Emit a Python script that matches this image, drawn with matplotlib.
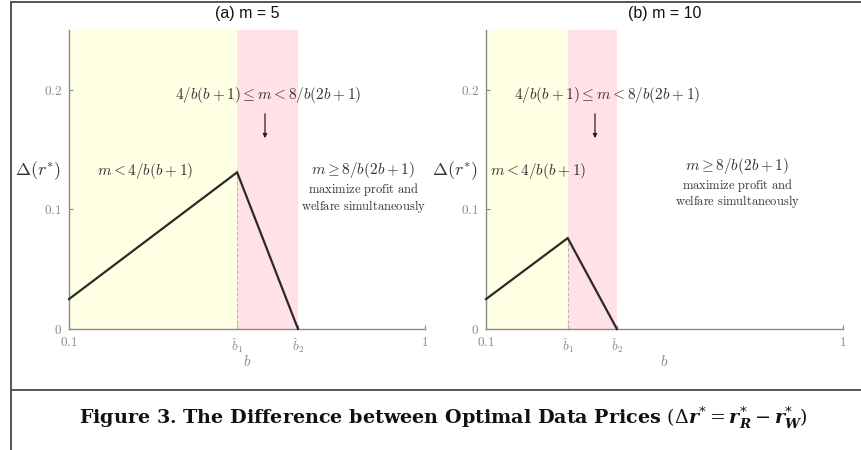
import numpy as np
import matplotlib
matplotlib.use('Agg')
from matplotlib import pyplot as plt
from matplotlib.lines import Line2D

plt.rcParams['mathtext.fontset'] = 'cm'

# --- data ---
titles = ['(a) m = 5', '(b) m = 10']
b_hat1 = [0.525, 0.306]   # 4/b(b+1) = m
b_hat2 = [0.679, 0.430]   # 8/b(2b+1) = m
b_pts = [[0.1, 0.525, 0.679],
         [0.1, 0.306, 0.430]]
delta_r = [[0.025, 0.131, 0.0],
           [0.025, 0.076, 0.0]]
y_ticks = [0, 0.1, 0.2]
y_ticklabels = ['$0$', '$0.1$', '$0.2$']

yellow = '#ffffe3'
pink = '#ffe1e6'
grey = '#8a8a8a'
txt = '#333333'

W, H = 862, 450
fig = plt.figure(figsize=(W / 100, H / 100), dpi=100)

def fx(px):
    return px / W

def fy(py):
    return 1 - py / H

ax_px = [(69, 425), (486, 843)]
top_px, bot_px = 30, 329

# per-panel text positions (pixels)
mid_txt_x = [268, 607]
arrow_x = [265, 595]
left_txt_x = [145, 490]
left_ha = ['center', 'left']
right_txt_x = [363, 737]
right_txt_y = [170, 166]

for i in range(2):
    x0, x1 = ax_px[i]
    ax = fig.add_axes([fx(x0), fy(bot_px), fx(x1 - x0), (bot_px - top_px) / H])
    ax.set_xlim(0.1, 1)
    ax.set_ylim(0, 0.25)

    ax.axvspan(0.1, b_hat1[i], color=yellow, lw=0, zorder=0)
    ax.axvspan(b_hat1[i], b_hat2[i], color=pink, lw=0, zorder=0)
    ax.plot(b_pts[i], delta_r[i], color='#2a2a2a', lw=1.6, zorder=3,
            solid_joinstyle='miter', clip_on=False)
    peak = delta_r[i][1]
    ax.plot([b_hat1[i], b_hat1[i]], [0, peak], color='#b8b8b8', lw=0.8,
            ls=(0, (3, 2)), zorder=2)

    for s in ['top', 'right']:
        ax.spines[s].set_visible(False)
    for s in ['left', 'bottom']:
        ax.spines[s].set_color(grey)
        ax.spines[s].set_linewidth(1.0)

    ax.set_xticks([0.1, b_hat1[i], b_hat2[i], 1])
    ax.set_xticklabels(['$0.1$', r'$\hat{b}_1$', r'$\hat{b}_2$', '$1$'])
    ax.set_yticks(y_ticks)
    ax.set_yticklabels(y_ticklabels)
    ax.tick_params(direction='in', length=3, width=0.8, colors=grey,
                   labelsize=9.5, pad=5)

    ax.set_title(titles[i], fontsize=11.5, family='Liberation Sans',
                 color='#111111', pad=9)
    fig.text(fx((x0 + x1) / 2), fy(362), '$b$', fontsize=11, color=grey,
             ha='center', va='center')

    # y label
    fig.text(fx(x0 - 8), fy(171), r'$\Delta(r^{*})$', fontsize=13,
             color=txt, ha='right', va='center')

    fig.text(fx(mid_txt_x[i]), fy(95),
             r'$4/b(b+1) \leq m < 8/b(2b+1)$', fontsize=11, color=txt,
             ha='center', va='center')
    ax.annotate('', xy=(fx(arrow_x[i]), fy(141)), xycoords='figure fraction',
                xytext=(fx(arrow_x[i]), fy(111)), textcoords='figure fraction',
                arrowprops=dict(arrowstyle='-|>', color='#222222', lw=0.9,
                                mutation_scale=6))
    fig.text(fx(left_txt_x[i]), fy(171), r'$m < 4/b(b+1)$', fontsize=11,
             color=txt, ha=left_ha[i], va='center')
    fig.text(fx(right_txt_x[i]), fy(right_txt_y[i]), r'$m \geq 8/b(2b+1)$',
             fontsize=11, color=txt, ha='center', va='center')
    fig.text(fx(right_txt_x[i]), fy(right_txt_y[i] + 20),
             r'$\mathrm{maximize\ profit\ and}$', fontsize=9, color=txt,
             ha='center', va='center')
    fig.text(fx(right_txt_x[i]), fy(right_txt_y[i] + 36),
             r'$\mathrm{welfare\ simultaneously}$', fontsize=9, color=txt,
             ha='center', va='center')

# page frame lines
frame = dict(color='#555555', lw=1.4, transform=fig.transFigure)
fig.add_artist(Line2D([fx(11), fx(11)], [0, fy(2)], **frame))
fig.add_artist(Line2D([fx(11), 1], [fy(2), fy(2)], **frame))
fig.add_artist(Line2D([fx(11), 1], [fy(390), fy(390)], **frame))

fig.text(fx(443), fy(418),
         r'Figure 3. The Difference between Optimal Data Prices '
         r'$(\Delta \mathbfit{r}^{*} = \mathbfit{r}^{*}_{\mathbfit{R}} - \mathbfit{r}^{*}_{\mathbfit{W}})$',
         fontsize=13.8, family='DejaVu Serif', weight='bold', color='#111111',
         ha='center', va='center', math_fontfamily='dejavuserif')

plt.savefig('out.png', dpi=100)
